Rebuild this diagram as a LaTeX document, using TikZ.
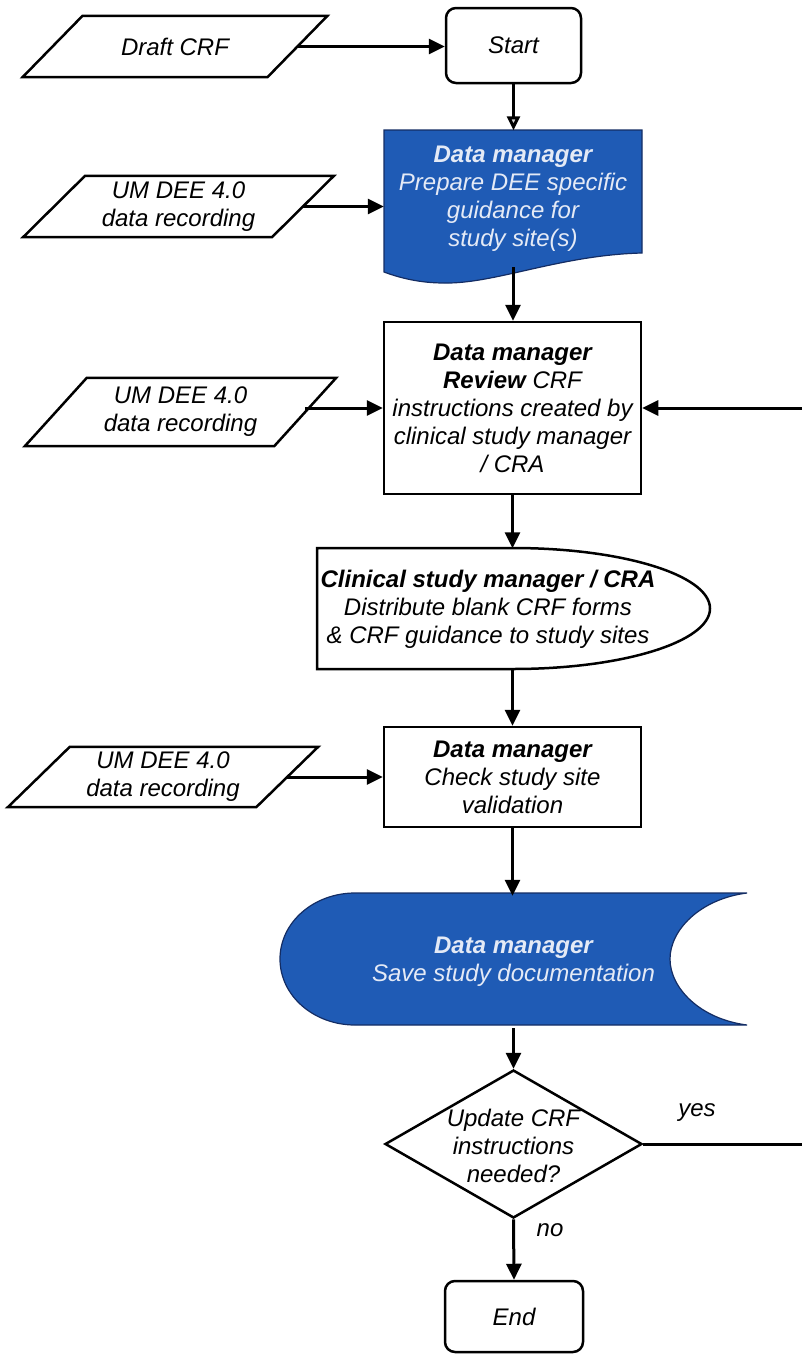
\documentclass[tikz,border=0pt]{standalone}
\usepackage{fontspec}
\setmainfont{Liberation Sans}
\usetikzlibrary{arrows.meta,shapes.geometric,calc}
\definecolor{flowblue}{RGB}{31,91,181}
\definecolor{paletext}{RGB}{228,234,246}
\definecolor{blueedge}{RGB}{20,45,100}
\begin{document}
\begin{tikzpicture}[x=1pt,y=-1pt,
  txt/.style={font=\fontsize{24}{28}\selectfont\itshape, align=center, inner sep=0pt},
  outline/.style={draw=black, line width=2.5pt, line join=miter},
  procbox/.style={txt, draw=black, line width=2.5pt, rectangle, minimum width=257pt},
  termbox/.style={txt, draw=black, line width=2.5pt, rectangle, rounded corners=10pt},
  bluefill/.style={fill=flowblue, draw=blueedge, line width=1.2pt},
  bluetxt/.style={txt, text=paletext},
  arr/.style={line width=3pt, -{Triangle[length=16pt,width=15pt]}},
  arropen/.style={line width=3pt, -{Triangle[length=14pt,width=13pt,fill=gray!35]}}
]
\useasboundingbox (0,0) rectangle (801,1355);

% Draft CRF (input)
\node[txt, minimum width=244.5pt, minimum height=61pt] (draft) at (175,46.5) {Draft CRF};
\draw[outline] ([xshift=30pt]draft.north west) -- ([xshift=30pt]draft.north east)
  -- ([xshift=-30pt]draft.south east) -- ([xshift=-30pt]draft.south west) -- cycle;

% Start
\node[termbox, minimum width=135pt, minimum height=75pt] (start) at (513.5,45.5) {Start};

% Prepare (document shape)
\draw[bluefill] (384,130) -- (642,130) -- (642,253)
  .. controls (560,255) and (495,284) .. (444,283)
  .. controls (420,283) and (400,278) .. (384,272) -- cycle;
\node[bluetxt, minimum width=258pt, minimum height=137pt] (prep) at (513,199)
  {\textbf{Data manager}\\Prepare DEE specific\\guidance for\\study site(s)};
\coordinate (prepbot) at (513,267);

% UM 1
\node[txt, minimum width=248.5pt, minimum height=61pt] (um1) at (178.5,206.5) {UM DEE 4.0\\data recording};
\draw[outline] ([xshift=31pt]um1.north west) -- ([xshift=31pt]um1.north east)
  -- ([xshift=-31pt]um1.south east) -- ([xshift=-31pt]um1.south west) -- cycle;

% Review
\node[procbox, minimum height=172pt] (review) at (512.5,408)
  {\textbf{Data manager}\\\textbf{Review} CRF\\instructions created by\\clinical study manager\\/ CRA};

% UM 2
\node[txt, minimum width=249pt, minimum height=68pt] (um2) at (180.5,412) {UM DEE 4.0\\data recording};
\draw[outline] ([xshift=31pt]um2.north west) -- ([xshift=31pt]um2.north east)
  -- ([xshift=-31pt]um2.south east) -- ([xshift=-31pt]um2.south west) -- cycle;

% Distribute (display-like shape)
\draw[outline] (317,548) -- (513,548)
  .. controls (622,548) and (710,575) .. (710,608.5)
  .. controls (710,642) and (622,669) .. (513,669) -- (317,669) -- cycle;
\node[txt, minimum height=121pt] (dist) at (488,609)
  {\textbf{Clinical study manager / CRA}\\Distribute blank CRF forms\\\& CRF guidance to study sites};

% Check
\node[procbox, minimum height=100pt] (check) at (512.5,777)
  {\textbf{Data manager}\\Check study site\\validation};

% UM 3
\node[txt, minimum width=248pt, minimum height=60pt] (um3) at (163,777) {UM DEE 4.0\\data recording};
\draw[outline] ([xshift=31pt]um3.north west) -- ([xshift=31pt]um3.north east)
  -- ([xshift=-31pt]um3.south east) -- ([xshift=-31pt]um3.south west) -- cycle;

% Save (stored data shape)
\draw[bluefill] (355,893) -- (747,893)
  .. controls (700,899) and (670,930) .. (670,959)
  .. controls (670,988) and (700,1019) .. (747,1025) -- (355,1025)
  .. controls (314,1025) and (280,996) .. (280,959)
  .. controls (280,922) and (314,893) .. (355,893) -- cycle;
\node[bluetxt, minimum height=132pt] (save) at (513.5,962)
  {\textbf{Data manager}\\Save study documentation};

% Decision
\node[draw=black, diamond, line width=2.5pt, minimum width=257pt, minimum height=148pt, inner sep=0pt] (dec) at (513.5,1144) {};
\node[txt] (dectxt) at (513.5,1146) {Update CRF\\instructions\\needed?};

% End
\node[termbox, minimum width=138pt, minimum height=71pt] (stop) at (514,1316.5) {End};

% labels
\node[txt] (yeslbl) at (697,1113) {yes};
\node[txt] (nolbl) at (550,1230) {no};

\coordinate (loopx) at (808,0);

% connectors
\draw[arr] (draft.east) -- (draft.east -| start.west);
\draw[arropen] (start.south) -- (start.south |- prep.north);
\draw[arr] (um1.east) -- (um1.east -| prep.west);
\draw[arr] (prepbot) -- (prepbot |- review.north);
\draw[arr] (review.west -| um2.east) -- (review.west);
\draw[arr] (review.south) -- (review.south |- dist.north);
\draw[arr] (dist.south -| check.north) -- (check.north);
\draw[arr] (check.west -| um3.east) -- (check.west);
\draw[arr] (check.south) -- (check.south |- save.north);
\draw[arr] (save.south -| dec.north) -- (dec.north);
\draw[arr] (dec.south) -- (stop.north);
\draw[arr] (dec.east) -- (dec.east -| loopx) |- (review.east);
\end{tikzpicture}
\end{document}
